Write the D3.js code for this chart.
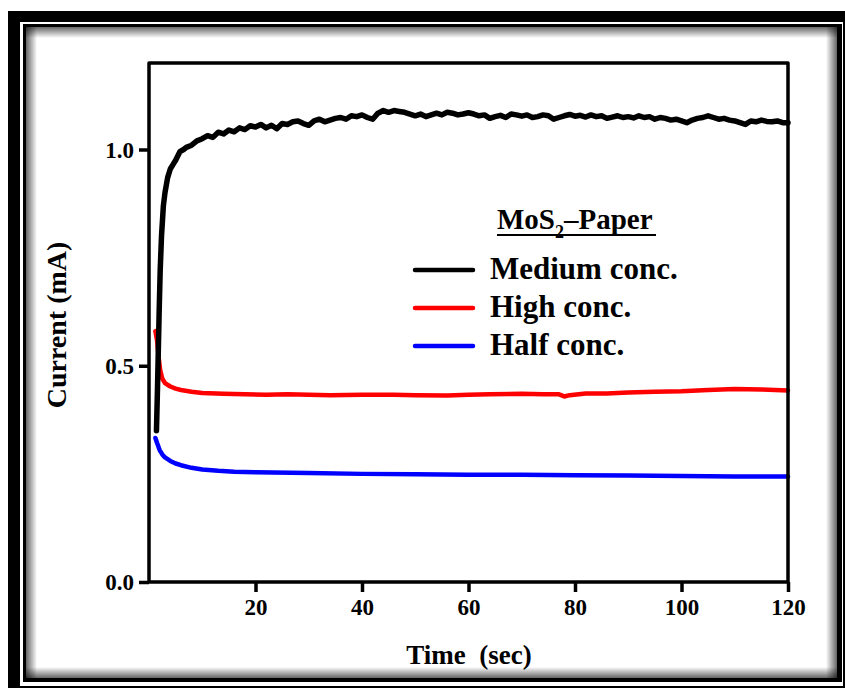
<!DOCTYPE html>
<html>
<head>
<meta charset="utf-8">
<script src="https://cdn.jsdelivr.net/npm/d3@7"></script>
<style>
  body { margin: 0; background: #fff; }
  svg text { font-family: "Liberation Serif", "Times New Roman", serif; font-weight: bold; fill: #000; }
</style>
</head>
<body>
<div class="container"></div>
<script>
var w = 845;
var h = 689;

// Medium conc. (black)
var mediumTime = [1.4, 1.6, 1.9, 2.1, 2.35, 2.7, 3.0, 3.5, 4, 4.5, 5, 5.8, 6.5, 7, 8, 9,
  10, 11, 12, 13, 14, 15, 16, 17, 18, 19,
  20, 21, 22, 23, 24, 25, 26, 27, 28, 29,
  30, 31, 32, 33, 34, 35, 36, 37, 38, 39,
  40, 41, 42, 43, 44, 45, 46, 47, 48, 49,
  50, 51, 52, 53, 54, 55, 56, 57, 58, 59,
  60, 61, 62, 63, 64, 65, 66, 67, 68, 69,
  70, 71, 72, 73, 74, 75, 76, 77, 78, 79,
  80, 81, 82, 83, 84, 85, 86, 87, 88, 89,
  90, 91, 92, 93, 94, 95, 96, 97, 98, 99,
  100, 101, 102, 103, 104, 105, 106, 107, 108, 109,
  110, 111, 112, 113, 114, 115, 116, 117, 118, 119, 120];
var mediumCurrent = [0.35, 0.45, 0.62, 0.72, 0.80, 0.87, 0.90, 0.935, 0.955, 0.965, 0.975, 0.995, 1.0, 1.005, 1.01, 1.02,
  1.025, 1.032, 1.028, 1.04, 1.036, 1.045, 1.041, 1.05, 1.046, 1.055,
  1.052, 1.058, 1.05, 1.056, 1.048, 1.06, 1.058, 1.064, 1.066, 1.06,
  1.056, 1.066, 1.07, 1.064, 1.068, 1.072, 1.074, 1.07, 1.078, 1.076,
  1.08, 1.074, 1.07, 1.084, 1.09, 1.086, 1.09, 1.088, 1.086, 1.082,
  1.078, 1.082, 1.076, 1.08, 1.084, 1.08, 1.086, 1.084, 1.08, 1.082,
  1.085, 1.082, 1.078, 1.08, 1.072, 1.076, 1.079, 1.074, 1.082, 1.08,
  1.077, 1.08, 1.074, 1.076, 1.08, 1.078, 1.07, 1.074, 1.078, 1.081,
  1.077, 1.079, 1.075, 1.08, 1.076, 1.078, 1.072, 1.075, 1.078, 1.074,
  1.076, 1.073, 1.078, 1.074, 1.076, 1.07, 1.074, 1.072, 1.068, 1.07,
  1.066, 1.062, 1.068, 1.072, 1.074, 1.078, 1.074, 1.07, 1.072, 1.068,
  1.066, 1.062, 1.058, 1.066, 1.064, 1.068, 1.065, 1.064, 1.066, 1.062, 1.062];

// High conc. (red)
var highTime = [1.2, 1.5, 1.8, 2.1, 2.5, 3, 4, 5, 6, 8, 10, 14, 18, 22, 26, 30, 34, 40, 46, 50, 56, 60,
  64, 70, 74, 77, 78, 79, 82, 86, 90, 95, 100, 105, 110, 115, 120];
var highCurrent = [0.58, 0.56, 0.52, 0.49, 0.47, 0.46, 0.452, 0.447, 0.444, 0.44, 0.437, 0.435, 0.434, 0.433,
  0.434, 0.433, 0.432, 0.433, 0.433, 0.432, 0.431, 0.433, 0.434, 0.435, 0.434, 0.434, 0.429, 0.432,
  0.436, 0.436, 0.438, 0.44, 0.441, 0.444, 0.446, 0.445, 0.443];

// Half conc. (blue)
var halfTime = [1.2, 1.5, 2, 2.5, 3, 4, 5, 6, 8, 10, 13, 16, 20, 30, 40, 50, 60, 70, 80, 90, 100, 110, 120];
var halfCurrent = [0.333, 0.322, 0.305, 0.295, 0.288, 0.28, 0.274, 0.27, 0.264, 0.26, 0.257, 0.255, 0.254,
  0.252, 0.25, 0.249, 0.248, 0.248, 0.247, 0.246, 0.245, 0.244, 0.244];

var xTicks = [20, 40, 60, 80, 100, 120];
var yTicks = [0.0, 0.5, 1.0];
var legendNames = ["Medium conc.", "High conc.", "Half conc."];
var colors = ["#000000", "#ff0000", "#0000ff"];

var series = [
  { name: legendNames[0], t: mediumTime, v: mediumCurrent, color: colors[0], width: 5.5 },
  { name: legendNames[1], t: highTime, v: highCurrent, color: colors[1], width: 4.5 },
  { name: legendNames[2], t: halfTime, v: halfCurrent, color: colors[2], width: 4.5 }
];

var svg = d3
  .select(".container")
  .append("svg")
  .attr("width", w)
  .attr("height", h);

// frame with double border and inner shadow
svg.append("rect").attr("x", 8).attr("y", 11).attr("width", 837).attr("height", 677).attr("fill", "#000");
svg.append("rect").attr("x", 20).attr("y", 22).attr("width", 823).attr("height", 664).attr("fill", "#fff");
svg.append("rect").attr("x", 23).attr("y", 24).attr("width", 819).attr("height", 658).attr("fill", "#000");
svg.append("rect").attr("x", 26).attr("y", 27).attr("width", 811).attr("height", 651).attr("fill", "#fff");

var defs = svg.append("defs");
function grad(id, x1, y1, x2, y2) {
  var g = defs.append("linearGradient").attr("id", id)
    .attr("x1", x1).attr("y1", y1).attr("x2", x2).attr("y2", y2);
  g.append("stop").attr("offset", "0%").attr("stop-color", "#000").attr("stop-opacity", 0.6);
  g.append("stop").attr("offset", "100%").attr("stop-color", "#000").attr("stop-opacity", 0);
}
grad("shL", "0", "0", "1", "0");
grad("shR", "1", "0", "0", "0");
grad("shT", "0", "0", "0", "1");
grad("shB", "0", "1", "0", "0");
var sh = 11;
svg.append("rect").attr("x", 26).attr("y", 27).attr("width", sh).attr("height", 651).attr("fill", "url(#shL)");
svg.append("rect").attr("x", 837 - sh).attr("y", 27).attr("width", sh).attr("height", 651).attr("fill", "url(#shR)");
svg.append("rect").attr("x", 26).attr("y", 27).attr("width", 811).attr("height", sh).attr("fill", "url(#shT)");
svg.append("rect").attr("x", 26).attr("y", 678 - sh).attr("width", 811).attr("height", sh).attr("fill", "url(#shB)");

// plot area
var m = { left: 149, top: 63, right: 788, bottom: 582 };

var xScale = d3.scaleLinear().domain([0, 120]).range([m.left, m.right]);
var yScale = d3.scaleLinear().domain([0, 1.2]).range([m.bottom, m.top]);

var line = d3.line()
  .x(d => xScale(d[0]))
  .y(d => yScale(d[1]));

var plot = svg.append("g");

// draw order: half, high, medium on top
[series[2], series[1], series[0]].forEach(function(s) {
  var pts = s.t.map((t, i) => [t, s.v[i]]);
  plot.append("path")
    .datum(pts)
    .attr("d", line)
    .attr("fill", "none")
    .attr("stroke", s.color)
    .attr("stroke-width", s.width)
    .attr("stroke-linejoin", "round")
    .attr("stroke-linecap", "round");
});

// axes
var xAxis = svg.append("g")
  .attr("transform", "translate(0," + m.bottom + ")")
  .call(d3.axisBottom(xScale).tickValues(xTicks).tickSize(10).tickSizeOuter(0).tickPadding(7));
var yAxis = svg.append("g")
  .attr("transform", "translate(" + m.left + ",0)")
  .call(d3.axisLeft(yScale).tickValues(yTicks).tickSize(10).tickSizeOuter(0).tickPadding(5).tickFormat(d3.format(".1f")));

[xAxis, yAxis].forEach(function(a) {
  a.select(".domain").remove();
  a.selectAll(".tick line").attr("stroke", "#000").attr("stroke-width", 3.5);
  a.selectAll(".tick text")
    .attr("font-size", null)
    .style("font-size", "23px")
    .style("font-family", "'Liberation Serif', serif")
    .style("font-weight", "bold")
    .attr("fill", "#000");
});
xAxis.attr("font-size", null);
yAxis.attr("font-size", null);
yAxis.selectAll(".tick text").attr("dy", "0.34em");

// plot box
svg.append("rect")
  .attr("x", m.left).attr("y", m.top)
  .attr("width", m.right - m.left).attr("height", m.bottom - m.top)
  .attr("fill", "none")
  .attr("stroke", "#000")
  .attr("stroke-width", 3.5)
  .attr("stroke-linejoin", "round");

// axis titles
svg.append("text")
  .attr("x", 469).attr("y", 664)
  .attr("text-anchor", "middle")
  .style("font-size", "27px")
  .style("white-space", "pre")
  .text("Time  (sec)");

svg.append("text")
  .attr("transform", "translate(66,325) rotate(-90)")
  .attr("text-anchor", "middle")
  .style("font-size", "28px")
  .text("Current (mA)");

// legend
var title = svg.append("text")
  .attr("x", 497).attr("y", 229)
  .style("font-size", "29px");
title.append("tspan").text("MoS");
title.append("tspan").attr("dy", 9).style("font-size", "18px").text("2");
title.append("tspan").attr("dy", -9).text("\u2013Paper");
svg.append("line")
  .attr("x1", 497).attr("x2", 656).attr("y1", 235).attr("y2", 235)
  .attr("stroke", "#000").attr("stroke-width", 2);

var legend = svg.append("g").attr("transform", "translate(415,270)");
var items = legend.selectAll("g")
  .data(series)
  .enter()
  .append("g")
  .attr("transform", (d, i) => "translate(0," + (i * 38) + ")");
items.append("line")
  .attr("x1", 0).attr("x2", 58).attr("y1", 0).attr("y2", 0)
  .attr("stroke", d => d.color)
  .attr("stroke-width", 4.5)
  .attr("stroke-linecap", "round");
items.append("text")
  .attr("x", 75).attr("y", 7)
  .attr("dy", "0.05em")
  .style("font-size", "31px")
  .text(d => d.name);
</script>
</body>
</html>
